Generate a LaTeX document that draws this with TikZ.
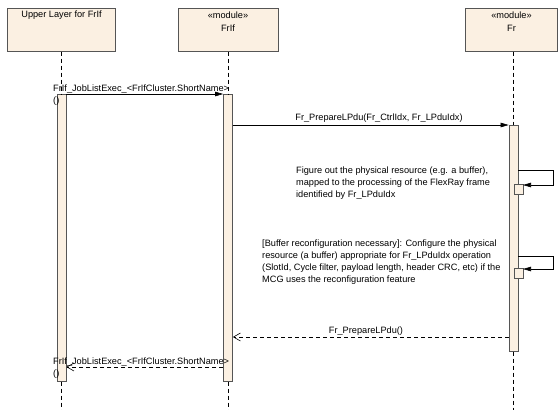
\documentclass[tikz,border=0pt]{standalone}
\usepackage{fontspec}
\setmainfont{Liberation Sans}
\usetikzlibrary{arrows.meta}
\definecolor{umlfill}{HTML}{FBF0E2}
\definecolor{umlline}{HTML}{555555}
\begin{document}
\begin{tikzpicture}[
  x=1pt, y=-1pt,
  font=\fontsize{9.2}{12}\selectfont,
  head/.style={
    draw=umlline,
    fill=umlfill,
    line width=0.7pt,
    minimum height=43pt,
    inner sep=0pt,
    anchor=north
  },
  actbar/.style={
    draw=umlline,
    fill=umlfill,
    line width=0.7pt,
    minimum width=9pt,
    inner sep=0pt,
    anchor=north
  },
  selfbox/.style={
    draw=umlline,
    fill=umlfill,
    line width=0.5pt,
    minimum width=9pt,
    minimum height=10pt,
    inner sep=0pt,
    anchor=north west
  },
  life/.style={dashed, line width=0.6pt, dash pattern=on 4pt off 3pt},
  call/.style={-{Triangle[length=8pt,width=4.5pt]}, line width=0.6pt},
  reply/.style={-{Straight Barb[length=7pt,width=8pt]}, line width=0.6pt, dash pattern=on 4pt off 3pt},
  lbl/.style={inner sep=0pt, align=left}
]
\useasboundingbox (0,0) rectangle (558,410);

% -------------------------------------------------
% Lifeline x-positions
% -------------------------------------------------
\def\xU{61.5}
\def\xI{228}
\def\xF{513.5}

% -------------------------------------------------
% HEADS
% -------------------------------------------------
\node[head, minimum width=108pt] (hU) at (\xU,8) {};
\node[head, minimum width=100pt] (hI) at (\xI,8) {};
\node[head, minimum width=92pt] (hF) at (511,8) {};

\node[lbl] (tU) at (\xU,15.5) {Upper Layer for FrIf};
\node[lbl, align=center, anchor=north] (tI) at (\xI,11.5) {«module»\\[1pt]FrIf};
\node[lbl, align=center, anchor=north] (tF) at (\xF-2,11.5) {«module»\\[1pt]Fr};

% -------------------------------------------------
% ACTIVATION BARS
% -------------------------------------------------
\node[actbar, minimum height=287pt] (bU) at (\xU,94) {};
\node[actbar, minimum height=287pt] (bI) at (\xI,94) {};
\node[actbar, minimum height=226pt] (bF) at (\xF,125) {};

\node[selfbox] (s1) at (\xF,184) {};
\node[selfbox] (s2) at (\xF,268) {};

% -------------------------------------------------
% LIFELINES
% -------------------------------------------------
\coordinate (eU) at (\xU,410);
\coordinate (eI) at (\xI,410);
\coordinate (eF) at (\xF,410);

\draw[life] (hU.south) -- (bU.north);
\draw[life] (hI.south) -- (bI.north);
\draw[life] (hF.south -| bF) -- (bF.north);
\draw[life] (bU.south) -- (eU);
\draw[life] (bI.south) -- (eI);
\draw[life] (bF.south) -- (eF);

% -------------------------------------------------
% MESSAGES
% -------------------------------------------------
% FrIf_JobListExec call
\draw[call] (bU.north east) -- (bI.north west);
\node[lbl, anchor=base west] (m1) at (53,91) {FrIf\_JobListExec\_<FrIfCluster.ShortName>};
\node[lbl, anchor=base west] (m1b) at (53,103) {()};

% Fr_PrepareLPdu call
\draw[call] (bI.east |- bF.north) -- (bF.north west);
\node[lbl, anchor=base] (m2) at (379,120) {Fr\_PrepareLPdu(Fr\_CtrlIdx, Fr\_LPduIdx)};

% self messages
\coordinate (r1) at (553,170);
\coordinate (r2) at (553,256);
\draw[call] (bF.east |- r1) -- (r1) |- ([yshift=-1pt]s1.north east);
\draw[call] (bF.east |- r2) -- (r2) |- ([yshift=-1pt]s2.north east);

\node[lbl, anchor=north west] (n1) at (296,167) {Figure out the physical resource (e.g. a buffer),\\
mapped to the processing of the FlexRay frame\\
identified by Fr\_LPduIdx};

\node[lbl, anchor=north west] (n2) at (262,239.5) {[Buffer reconfiguration necessary]: Configure the physical\\
resource (a buffer) appropriate for Fr\_LPduIdx operation\\
(SlotId, Cycle filter, payload length, header CRC, etc) if the\\
MCG uses the reconfiguration feature};

% replies
\coordinate (y3) at (0,337);
\draw[reply] (bF.west |- y3) -- (bI.east |- y3);
\node[lbl, anchor=base] (m3) at (366,333) {Fr\_PrepareLPdu()};

\coordinate (y4) at (0,367);
\draw[reply] (bI.west |- y4) -- (bU.east |- y4);
\node[lbl, anchor=base west] (m4) at (53,364) {FrIf\_JobListExec\_<FrIfCluster.ShortName>};
\node[lbl, anchor=base west] (m4b) at (53,376) {()};

\end{tikzpicture}
\end{document}
